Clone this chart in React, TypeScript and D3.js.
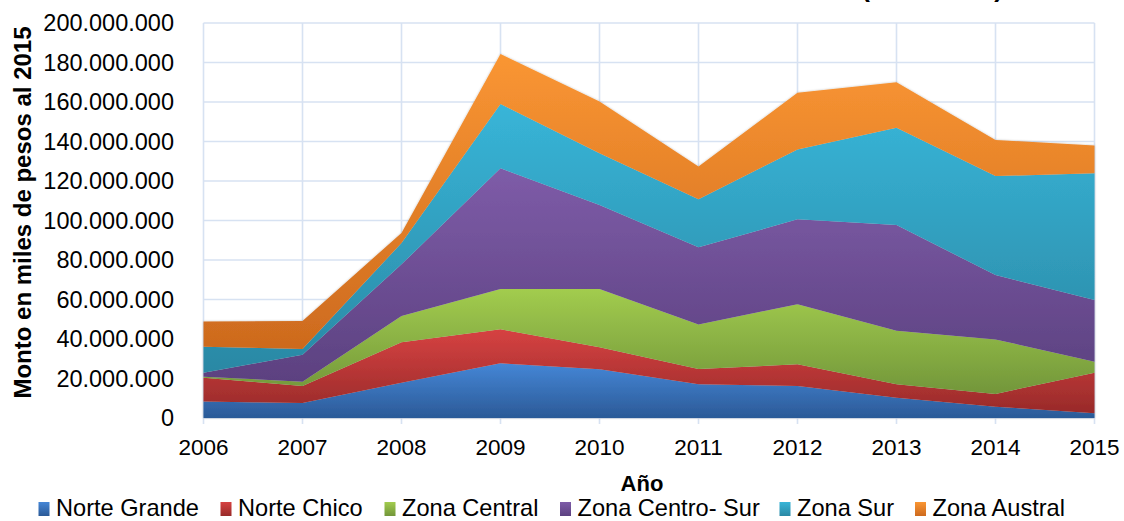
import React from "react";
import * as d3 from "d3";

// años y montos (millones de pesos de 2015)
const years = [2006, 2007, 2008, 2009, 2010, 2011, 2012, 2013, 2014, 2015];
const norteGrande = [8.3, 7.6, 17.9, 27.7, 24.7, 17.1, 16.2, 10.3, 5.7, 2.4];
const norteChico = [12.1, 8.6, 20.4, 17.2, 11.1, 7.7, 11.0, 6.8, 6.5, 20.5];
const zonaCentral = [0.5, 2.2, 13.3, 20.4, 29.5, 22.6, 30.4, 27.1, 27.6, 5.6];
const zonaCentroSur = [2.0, 13.6, 26.2, 61.1, 42.5, 39.0, 43.0, 53.5, 32.6, 31.2];
const zonaSur = [13.2, 2.9, 10.8, 32.6, 26.2, 24.3, 35.4, 49.3, 50.1, 64.2];
const zonaAustral = [12.7, 14.2, 5.1, 25.3, 26.2, 16.6, 28.7, 23.0, 18.3, 14.1];

const seriesNames = [
  "Norte Grande",
  "Norte Chico",
  "Zona Central",
  "Zona Centro- Sur",
  "Zona Sur",
  "Zona Austral",
];
const seriesValues = [norteGrande, norteChico, zonaCentral, zonaCentroSur, zonaSur, zonaAustral];
const yTicks = [0, 20, 40, 60, 80, 100, 120, 140, 160, 180, 200];

// gradient top / bottom per series
const colors = [
  ["#4586d6", "#2b5a97"],
  ["#d64242", "#982a29"],
  ["#a2cc4e", "#72963a"],
  ["#7e5ca8", "#5c4180"],
  ["#38b5d8", "#2a88a4"],
  ["#fa9633", "#cd6a1e"],
];
const legendX = [38.5, 220.5, 384.5, 560, 779.5, 915];

const W = 1124;
const H = 521;
const gridColor = "#d7e2f2";
const font = "'Liberation Sans', Arial, sans-serif";

const locale = d3.formatLocale({
  decimal: ",",
  thousands: ".",
  grouping: [3],
  currency: ["$", ""],
});
const fmt = locale.format(",");

export default function App() {
  const x = d3.scaleLinear().domain([2006, 2015]).range([203.5, 1094.5]);
  const y = d3.scaleLinear().domain([0, 200]).range([418, 23]);

  const rows = years.map((yr, i) => {
    const r: Record<string, number> = { year: yr };
    seriesNames.forEach((n, k) => (r[n] = seriesValues[k][i]));
    return r;
  });
  const stacked = d3.stack<Record<string, number>>().keys(seriesNames)(rows);

  const area = d3
    .area<d3.SeriesPoint<Record<string, number>>>()
    .x((d) => x(d.data.year))
    .y0((d) => y(d[0]))
    .y1((d) => y(d[1]));

  return (
    <svg
      width={W}
      height={H}
      style={{ position: "absolute", left: 0, top: 0, background: "#fff" }}
      fontFamily={font}
    >
      <defs>
        {colors.map((c, i) => (
          <linearGradient key={i} id={`g${i}`} x1="0" y1="0" x2="0" y2="1">
            <stop offset="0" stopColor={c[0]} />
            <stop offset="1" stopColor={c[1]} />
          </linearGradient>
        ))}
        <filter id="shadow" x="-5%" y="-5%" width="110%" height="110%">
          <feDropShadow dx="0" dy="0" stdDeviation="1.3" floodColor="#000" floodOpacity="0.25" />
        </filter>
      </defs>

      {/* título (cortado arriba) */}
      <text x={1003} y={-3} textAnchor="end" fontSize={26} fontWeight="bold">
        (2006-2015)
      </text>

      {/* grilla */}
      <g stroke={gridColor} strokeWidth={1.6}>
        {yTicks.map((t) => (
          <line key={t} x1={x(2006)} x2={x(2015)} y1={y(t)} y2={y(t)} />
        ))}
        {years.map((yr) => (
          <line key={yr} x1={x(yr)} x2={x(yr)} y1={y(200)} y2={y(0) + 6} />
        ))}
      </g>

      {/* áreas apiladas */}
      <g filter="url(#shadow)">
        {stacked.map((s, i) => (
          <path key={s.key} d={area(s) || ""} fill={`url(#g${i})`} />
        ))}
      </g>

      {/* eje y */}
      <g fontSize={23.5} textAnchor="end" fill="#000">
        {yTicks.map((t) => (
          <text key={t} x={174} y={y(t)} dy="0.36em">
            {fmt(t * 1000000)}
          </text>
        ))}
      </g>
      <text
        transform={`translate(31,${212.5}) rotate(-90)`}
        textAnchor="middle"
        fontSize={24}
        fontWeight="bold"
      >
        Monto en miles de pesos al 2015
      </text>

      {/* eje x */}
      <g fontSize={22.5} textAnchor="middle">
        {years.map((yr) => (
          <text key={yr} x={x(yr)} y={455}>
            {yr}
          </text>
        ))}
      </g>
      <text x={642} y={491} textAnchor="middle" fontSize={22} fontWeight="bold">
        Año
      </text>

      {/* leyenda */}
      <g fontSize={23.6}>
        {seriesNames.map((n, i) => (
          <g key={n} transform={`translate(${legendX[i]},0)`}>
            <rect x={0} y={502} width={11} height={14} fill={`url(#g${i})`} />
            <text x={17.5} y={516}>
              {n}
            </text>
          </g>
        ))}
      </g>
    </svg>
  );
}
